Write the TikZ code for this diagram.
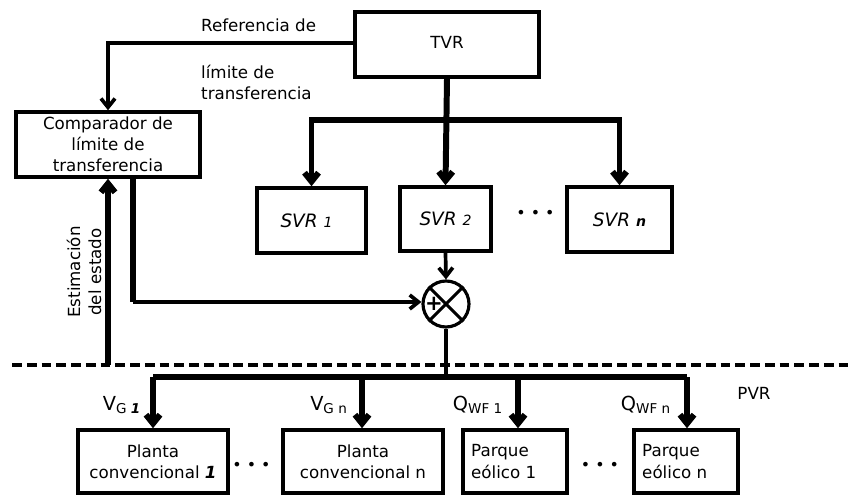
\documentclass[tikz,border=0pt]{standalone}
\usepackage{fontspec}
\setmainfont{DejaVu Sans}
\usepackage{tikz}
\usetikzlibrary{positioning,arrows.meta,calc}

\begin{document}
\begin{tikzpicture}[
  font=\fontsize{9.5}{12}\selectfont,
  >={Straight Barb[length=5pt,width=8pt]},
  block/.style={
    rectangle, draw=black, line width=2pt, fill=white,
    inner sep=2pt, align=center, minimum height=1.3cm
  },
  sumnode/.style={circle, draw=black, line width=1.8pt, minimum size=0.92cm, inner sep=0pt},
  link/.style={->, line width=2.1pt, draw=black},
  heavy/.style={->, line width=3.4pt, draw=black},
  bus/.style={line width=3.4pt, draw=black},
  sig/.style={font=\fontsize{11}{13}\selectfont},
  svrtext/.style={font=\fontsize{10.5}{12}\selectfont\itshape},
  dots/.style={font=\fontsize{9}{10}\selectfont}
]
\useasboundingbox (0,0) rectangle (17.06,-9.9);

% --- UPPER LEVEL ---
\node[block, minimum width=3.68cm] (tvr) at (8.94,-0.89) {\raisebox{2pt}{TVR}};
\node[block, minimum width=3.68cm] (comp) at (2.16,-2.89) {Comparador de\\límite de\\transferencia};
\node[anchor=west] (ref) at (3.9,-0.5) {Referencia de};
\node[anchor=north west, align=left] (lim) at (3.9,-1.18) {límite de\\transferencia};

% --- SECONDARY LEVEL ---
\node[block, svrtext, minimum width=2.18cm] (svr1) at (6.23,-4.41) {SVR {\footnotesize 1}\hspace*{0.2cm}};
\node[block, svrtext, minimum width=1.82cm, minimum height=1.28cm] (svr2) at (8.91,-4.38) {SVR {\footnotesize 2}};
\node[block, svrtext, minimum width=2.1cm] (svrn) at (12.39,-4.39) {SVR {\footnotesize\bfseries n}};
\node[dots] (sdots) at (10.71,-4.28) {\textbullet\ \textbullet\ \textbullet};
\node[sumnode] (sum) at (8.92,-6.08) {};
\draw[line width=1.8pt] (sum.north west) -- (sum.south east);
\draw[line width=1.8pt] (sum.north east) -- (sum.south west);
\node[font=\bfseries\large, inner sep=0pt] (plus) at ($(sum)+(-0.24,0)$) {+};

% --- PRIMARY LEVEL ---
\node[block, minimum width=3.0cm, minimum height=1.26cm] (pc1) at (3.06,-9.23) {Planta\\convencional \textit{\bfseries 1}};
\node[block, minimum width=3.2cm, minimum height=1.26cm] (pcn) at (7.26,-9.23) {Planta\\convencional n};
\node[block, minimum width=2.08cm, minimum height=1.26cm, align=left] (pe1) at (10.3,-9.23) {Parque\\eólico 1\hspace*{0.45cm}};
\node[block, minimum width=2.08cm, minimum height=1.26cm, align=left] (pen) at (13.72,-9.23) {Parque\\eólico n\hspace*{0.45cm}};
\node[dots] (pdots) at (5.03,-9.32) {\textbullet\ \textbullet\ \textbullet};
\node[dots] (edots) at (12.0,-9.32) {\textbullet\ \textbullet\ \textbullet};

\node[sig] (vg1) at (2.44,-8.1) {V\textsubscript{G \textit{\bfseries 1}}};
\node[sig] (vgn) at (6.58,-8.1) {V\textsubscript{G n}};
\node[sig] (qw1) at (9.56,-8.1) {Q\textsubscript{WF 1}};
\node[sig] (qwn) at (12.92,-8.1) {Q\textsubscript{WF n}};
\node (pvr) at (15.08,-7.86) {PVR};

% --- separation ---
\coordinate (dl) at (0.24,-7.3);
\coordinate (dr) at (17.06,-7.3);
\draw[line width=1.8pt, dash pattern=on 5.6pt off 2.8pt] (dl) -- (dr);

% --- connectors ---
\coordinate (tvrw) at (7.1,-0.86);
\draw[link] (tvrw) -| (comp.north);
\draw[heavy] (tvr.south) -- (svr2.north);
\coordinate (br) at (8.94,-2.4);
\draw[heavy] (br) -| (svr1.north);
\draw[heavy] (br) -| (svrn.north);
\draw[link] (svr2.south) -- (sum.north);
\coordinate (est) at (2.16,-7.3);
\draw[heavy] (est) -- (comp.south);
\node[rotate=90, align=center] (estlbl) at (1.68,-5.44) {Estimación\\del estado};
\coordinate (cmpup) at (2.66,-3.54);
\coordinate (cmpdn) at (2.66,-6.04);
\draw[line width=3.2pt] (cmpup) -- (cmpdn);
\draw[link] (cmpdn) -- (sum.west |- cmpdn);
\coordinate (busm) at (8.92,-7.54);
\draw[line width=2.1pt] (sum.south) -- (busm);
\coordinate (busl) at (3.06,-7.54);
\coordinate (busr) at (13.74,-7.54);
\coordinate (tpcn) at (7.24,-7.54);
\coordinate (tpe1) at (10.36,-7.54);
\draw[bus] (busl) -- (busr);
\draw[heavy] (busl) -- (pc1.north);
\draw[heavy] (tpcn) -- (tpcn |- pcn.north);
\draw[heavy] (tpe1) -- (tpe1 |- pe1.north);
\draw[heavy] (busr) -- (busr |- pen.north);

\end{tikzpicture}
\end{document}
